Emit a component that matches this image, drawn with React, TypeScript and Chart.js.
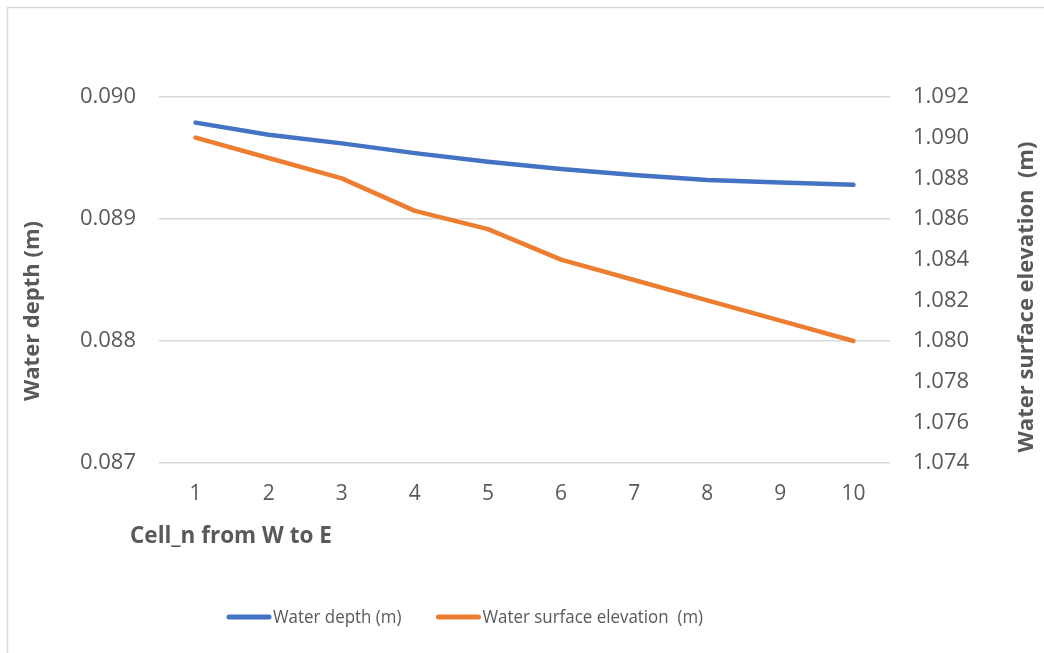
import React, { useEffect, useRef } from "react";
import { Chart, registerables } from "chart.js";

Chart.register(...registerables);

const categories = ["1", "2", "3", "4", "5", "6", "7", "8", "9", "10"];
const waterDepth = [0.08979, 0.08969, 0.08962, 0.08954, 0.08947, 0.08941, 0.08936, 0.08932, 0.0893, 0.08928];
const waterSurfaceElevation = [1.09, 1.089, 1.088, 1.0864, 1.0855, 1.084, 1.083, 1.082, 1.081, 1.08];
const seriesLabels = ["Water depth (m)", "Water surface elevation  (m)"];
const leftAxisTitle = "Water depth (m)";
const rightAxisTitle = "Water surface elevation  (m)";
const xAxisTitle = "Cell_n from W to E";

const FONT = "'Open Sans', 'DejaVu Sans', sans-serif";
const TEXT = "#595959";

const overlayPlugin = {
  id: "overlay",
  afterDraw(chart: any) {
    const ctx = chart.ctx as CanvasRenderingContext2D;
    ctx.save();
    // chart border (top & left)
    ctx.strokeStyle = "#d9d9d9";
    ctx.lineWidth = 1.5;
    ctx.beginPath();
    ctx.moveTo(7.5, 653);
    ctx.lineTo(7.5, 7.5);
    ctx.lineTo(1044, 7.5);
    ctx.stroke();

    // axis titles
    ctx.fillStyle = TEXT;
    ctx.font = `bold 22px ${FONT}`;
    ctx.textAlign = "center";
    ctx.textBaseline = "middle";
    ctx.save();
    ctx.translate(33, 311);
    ctx.rotate(-Math.PI / 2);
    ctx.fillText(leftAxisTitle, 0, 0);
    ctx.restore();
    ctx.save();
    ctx.translate(1027, 297);
    ctx.rotate(-Math.PI / 2);
    ctx.fillText(rightAxisTitle, 0, 0);
    ctx.restore();
    ctx.textAlign = "left";
    ctx.font = `bold 22.5px ${FONT}`;
    ctx.fillText(xAxisTitle, 130, 537);

    // legend
    const sx = 0.89;
    ctx.font = `19px ${FONT}`;
    ctx.lineCap = "round";
    ctx.lineWidth = 5;
    let x = 229;
    const y = 617;
    chart.data.datasets.forEach((ds: any) => {
      ctx.strokeStyle = ds.borderColor;
      ctx.beginPath();
      ctx.moveTo(x, y);
      ctx.lineTo(x + 40, y);
      ctx.stroke();
      ctx.fillStyle = TEXT;
      ctx.textBaseline = "middle";
      ctx.save();
      ctx.translate(x + 44, y + 1);
      ctx.scale(sx, 1);
      ctx.fillText(ds.label, 0, 0);
      ctx.restore();
      x += 44 + ctx.measureText(ds.label).width * sx + 37;
    });
    ctx.restore();
  },
};

export default function App() {
  const ref = useRef<HTMLCanvasElement | null>(null);
  useEffect(() => {
    document.body.style.margin = "0";
    const canvas = ref.current!;
    const chart = new Chart(canvas, {
      type: "line",
      data: {
        labels: categories,
        datasets: [
          {
            label: seriesLabels[0],
            data: waterDepth,
            borderColor: "#4472C4",
            backgroundColor: "#4472C4",
            borderWidth: 4.5,
            pointRadius: 0,
            tension: 0,
            borderCapStyle: "round",
            borderJoinStyle: "round",
            yAxisID: "y",
          },
          {
            label: seriesLabels[1],
            data: waterSurfaceElevation,
            borderColor: "#ED7D31",
            backgroundColor: "#ED7D31",
            borderWidth: 4.5,
            pointRadius: 0,
            tension: 0,
            borderCapStyle: "round",
            borderJoinStyle: "round",
            yAxisID: "y1",
          },
        ],
      },
      options: {
        responsive: false,
        animation: false,
        events: [],
        layout: { padding: { top: 97, left: 0, right: 0, bottom: 0 } },
        plugins: { legend: { display: false }, tooltip: { enabled: false } },
        scales: {
          x: {
            offset: true,
            grid: { display: false, drawTicks: false },
            border: { display: false },
            ticks: { color: TEXT, font: { family: FONT, size: 21 }, padding: 18, maxRotation: 0 },
            afterFit: (s: any) => {
              s.height = 653 - 97 - 366;
            },
          },
          y: {
            position: "left",
            min: 0.087,
            max: 0.09,
            grid: { color: "#d9d9d9", lineWidth: 1.5, drawTicks: false },
            border: { display: false },
            ticks: {
              stepSize: 0.001,
              color: TEXT,
              font: { family: FONT, size: 22 },
              padding: 23,
              callback: (v: any) => Number(v).toFixed(3),
            },
            afterFit: (s: any) => {
              s.width = 159;
            },
          },
          y1: {
            position: "right",
            min: 1.074,
            max: 1.092,
            grid: { display: false, drawTicks: false },
            border: { display: false },
            ticks: {
              stepSize: 0.002,
              color: TEXT,
              font: { family: FONT, size: 22 },
              padding: 23,
              callback: (v: any) => Number(v).toFixed(3),
            },
            afterFit: (s: any) => {
              s.width = 1044 - 890;
            },
          },
        },
      },
      plugins: [overlayPlugin],
    });
    return () => chart.destroy();
  }, []);
  return (
    <div style={{ width: 1044, height: 653 }}>
      <canvas ref={ref} width={1044} height={653} style={{ display: "block" }} />
    </div>
  );
}
